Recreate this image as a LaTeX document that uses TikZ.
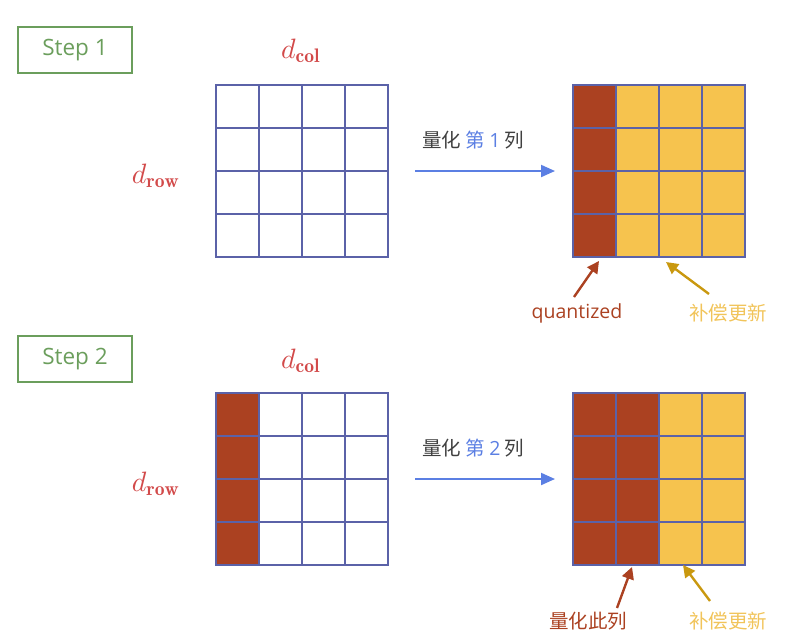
\documentclass[tikz,border=0pt]{standalone}
\usepackage{fontspec}
\usepackage{graphicx}
\setsansfont{Open Sans}
\newfontfamily\cjk{Noto Sans CJK SC}
\usetikzlibrary{arrows.meta}
\definecolor{gridc}{HTML}{5B62A8}
\definecolor{qred}{HTML}{AB4121}
\definecolor{qyel}{HTML}{F6C34E}
\definecolor{dred}{HTML}{D24A4A}
\definecolor{stepg}{HTML}{6B9E5C}
\definecolor{arrb}{HTML}{5B7FE3}
\definecolor{labyel}{HTML}{F1C45A}
\definecolor{arryel}{HTML}{C9980F}
\tikzset{
  stepbox/.style={draw=stepg,line width=1.6pt,minimum width=114pt,minimum height=46pt,inner sep=0pt,font=\sffamily\fontsize{22.5}{24}\selectfont,text=stepg},
  dlab/.style={text=dred,inner sep=0pt},
  matbox/.style={minimum width=172pt,minimum height=172pt,inner sep=0pt},
  gline/.style={draw=gridc,line width=1.8pt},
  mainarr/.style={draw=arrb,line width=2pt,-{Triangle[length=14pt,width=12pt]}},
  toplab/.style={font=\cjk\fontsize{19.5}{22}\selectfont,text=black!75,inner sep=0pt},
  redarr/.style={draw=qred,line width=2.4pt,-{Triangle[length=12pt,width=12pt]}},
  yelarr/.style={draw=arryel,line width=2.4pt,-{Triangle[length=12pt,width=12pt]}},
  redlab/.style={text=qred,inner sep=1pt},
  yellab/.style={text=labyel,inner sep=1pt,font=\cjk\fontsize{19.5}{22}\selectfont},
}
\newcommand{\mygrid}[2]{%
  \foreach \k in {0,...,4}{
    \draw[gline,line cap=rect] ({#1+43*\k},#2) -- ({#1+43*\k},{#2+172});
    \draw[gline,line cap=rect] (#1,{#2+43*\k}) -- ({#1+172},{#2+43*\k});
  }}
\newcommand{\dcol}{\scalebox{2.8}{$d_{\mathbf{col}}$}}
\newcommand{\drow}{\scalebox{2.8}{$d_{\mathbf{row}}$}}
\begin{document}
\begin{tikzpicture}[x=1pt,y=-1pt]
\useasboundingbox (0,0) rectangle (795,630);
% ---------- Step 1 ----------
\node[stepbox] (s1) at (75,50) {Step 1};
\node[dlab] (dc1) at (301,51) {\dcol};
\node[dlab] (dr1) at (156,176) {\drow};
\node[matbox] (A1) at (302,171) {};
\mygrid{216}{85}
\node[matbox] (B1) at (659,171) {};
\fill[qred] (573,85) rectangle (616,257);
\fill[qyel] (616,85) rectangle (745,257);
\mygrid{573}{85}
\coordinate (a1s) at (415,171);
\coordinate (a1e) at (555,171);
\draw[mainarr] (a1s) -- (a1e);
\node[toplab,anchor=base west] (t1) at (422,147) {量化 \textcolor{arrb}{第 {\sffamily 1}} 列};
\node[redlab,font=\sffamily\fontsize{19.5}{22}\selectfont] (q1) at (577,313) {quantized};
\coordinate (q1t) at (599,261);
\draw[redarr] (574,297) -- (q1t);
\node[yellab] (y1) at (728,313) {补偿更新};
\coordinate (y1t) at (666,262);
\draw[yelarr] (709,294) -- (y1t);
% ---------- Step 2 ----------
\node[stepbox] (s2) at (75,359) {Step 2};
\node[dlab] (dc2) at (301,361) {\dcol};
\node[dlab] (dr2) at (156,484) {\drow};
\node[matbox] (A2) at (302,479) {};
\fill[qred] (216,393) rectangle (259,565);
\mygrid{216}{393}
\node[matbox] (B2) at (659,479) {};
\fill[qred] (573,393) rectangle (659,565);
\fill[qyel] (659,393) rectangle (745,565);
\mygrid{573}{393}
\coordinate (a2s) at (415,479);
\coordinate (a2e) at (555,479);
\draw[mainarr] (a2s) -- (a2e);
\node[toplab,anchor=base west] (t2) at (422,455) {量化 \textcolor{arrb}{第 {\sffamily 2}} 列};
\node[redlab,font=\cjk\fontsize{19.5}{22}\selectfont] (q2) at (588,621) {量化此列};
\coordinate (q2t) at (632,567);
\draw[redarr] (617,608) -- (q2t);
\node[yellab] (y2) at (728,621) {补偿更新};
\coordinate (y2t) at (683,565);
\draw[yelarr] (710,601) -- (y2t);
\end{tikzpicture}
\end{document}
